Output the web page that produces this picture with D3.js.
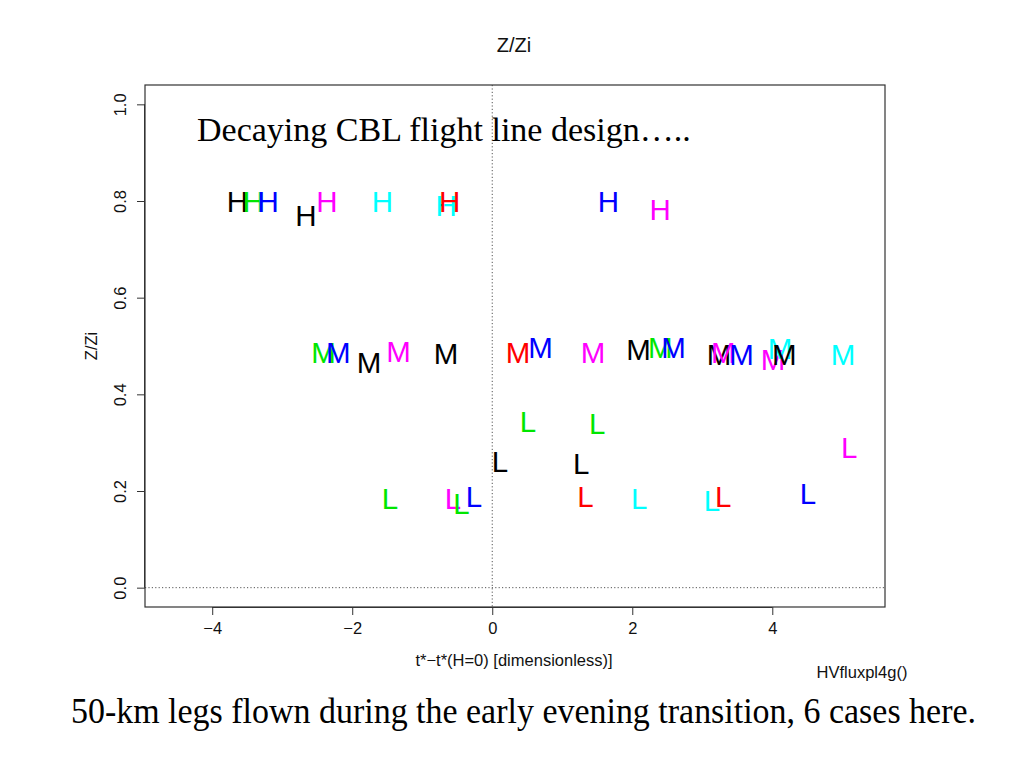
<!DOCTYPE html>
<html><head><meta charset="utf-8">
<script src="https://cdn.jsdelivr.net/npm/d3@7"></script>
<style>body{margin:0;background:#fff}svg{display:block}</style>
</head><body>
<script>
// Case colours (R base palette order)
const caseColors = ["#000000", "#ff0000", "#00e600", "#0000ff", "#00ffff", "#ff00ff"];
const caseNames = ["black", "red", "green", "blue", "cyan", "magenta"];

// H legs (z/zi ~ 0.8)
const hX    = [-3.64, -3.41, -3.20, -2.66, -2.36, -1.57, -0.66, -0.61, 1.66, 2.40];
const hY    = [0.800, 0.800, 0.800, 0.771, 0.800, 0.800, 0.790, 0.800, 0.800, 0.783];
const hCase = ["black", "green", "blue", "black", "magenta", "cyan", "cyan", "red", "blue", "magenta"];

// M legs (z/zi ~ 0.5)
const mX    = [-2.41, -2.20, -1.76, -1.34, -0.66, 0.37, 0.69, 1.44, 2.09, 2.40, 2.59, 3.24, 3.30, 3.56, 4.01, 4.11, 4.17, 5.01];
const mY    = [0.487, 0.487, 0.466, 0.489, 0.485, 0.487, 0.497, 0.487, 0.493, 0.497, 0.497, 0.482, 0.487, 0.482, 0.472, 0.495, 0.482, 0.482];
const mCase = ["green", "blue", "black", "magenta", "black", "red", "blue", "magenta", "black", "green", "blue", "black", "magenta", "blue", "magenta", "cyan", "black", "cyan"];

// L legs (z/zi ~ 0.2)
const lX    = [-1.46, -0.56, -0.44, -0.26, 0.11, 0.51, 1.27, 1.33, 1.50, 2.10, 3.14, 3.30, 4.51, 5.10];
const lY    = [0.184, 0.184, 0.175, 0.188, 0.262, 0.344, 0.256, 0.188, 0.340, 0.184, 0.181, 0.188, 0.194, 0.291];
const lCase = ["green", "magenta", "green", "blue", "black", "green", "black", "red", "green", "cyan", "cyan", "red", "blue", "magenta"];

const xTicks = [-4, -2, 0, 2, 4];
const yTicks = [0.0, 0.2, 0.4, 0.6, 0.8, 1.0];
const xDomain = [-4.96, 5.61];
const yDomain = [-0.04, 1.04];

const W = 1024, H = 768;
const plot = {left: 145, right: 885, top: 85, bottom: 607};

const svg = d3.select("body").append("svg").attr("width", W).attr("height", H);

const x = d3.scaleLinear().domain(xDomain).range([plot.left, plot.right]);
const y = d3.scaleLinear().domain(yDomain).range([plot.bottom, plot.top]);

const sans = "'Liberation Sans', Arial, Helvetica, sans-serif";
const serif = "'Liberation Serif', 'Times New Roman', serif";
const axFont = 16.5;

// reference dotted lines
svg.append("line").attr("x1", x(0)).attr("x2", x(0)).attr("y1", plot.top).attr("y2", plot.bottom)
  .attr("stroke", "#555").attr("stroke-width", 1).attr("stroke-dasharray", "1.2,2.2");
svg.append("line").attr("x1", plot.left).attr("x2", plot.right).attr("y1", y(0)).attr("y2", y(0))
  .attr("stroke", "#555").attr("stroke-width", 1).attr("stroke-dasharray", "1.2,2.2");

// box
svg.append("rect").attr("x", plot.left).attr("y", plot.top)
  .attr("width", plot.right - plot.left).attr("height", plot.bottom - plot.top)
  .attr("fill", "none").attr("stroke", "#333").attr("stroke-width", 1.2);

// axes
const xAxis = svg.append("g").attr("transform", `translate(0,${plot.bottom})`)
  .call(d3.axisBottom(x).tickValues(xTicks).tickSize(8).tickPadding(7)
    .tickFormat(d => d < 0 ? "\u2212" + Math.abs(d) : String(d)));
xAxis.attr("font-size", null).attr("font-family", null);
xAxis.select(".domain").attr("d", `M${x(-4)},0.5H${x(4)}`).attr("stroke", "#333");
xAxis.selectAll(".tick line").attr("stroke", "#333");
xAxis.selectAll("text").style("font-family", sans).style("font-size", axFont + "px").attr("fill", "#111");

const yAxis = svg.append("g").attr("transform", `translate(${plot.left},0)`)
  .call(d3.axisLeft(y).tickValues(yTicks).tickSize(8).tickFormat(d3.format(".1f")));
yAxis.attr("font-size", null).attr("font-family", null);
yAxis.select(".domain").attr("d", `M-0.5,${y(0)}V${y(1)}`).attr("stroke", "#333");
yAxis.selectAll(".tick line").attr("stroke", "#333");
yAxis.selectAll("text")
  .style("font-family", sans).style("font-size", axFont + "px").attr("fill", "#111")
  .attr("x", 0).attr("dy", 0)
  .attr("text-anchor", "middle")
  .attr("transform", "translate(-25,0) rotate(-90)")
  .attr("dominant-baseline", "central");

// titles
svg.append("text").attr("x", 514).attr("y", 52).attr("text-anchor", "middle")
  .style("font-family", sans).style("font-size", "20px").attr("fill", "#111").text("Z/Zi");
svg.append("text").attr("transform", `translate(97,${(plot.top + plot.bottom) / 2}) rotate(-90)`)
  .attr("text-anchor", "middle").style("font-family", sans).style("font-size", axFont + "px").attr("fill", "#111").text("Z/Zi");
svg.append("text").attr("x", 514).attr("y", 666).attr("text-anchor", "middle")
  .style("font-family", sans).style("font-size", axFont + "px").attr("fill", "#111").text("t*\u2212t*(H=0) [dimensionless)]");
svg.append("text").attr("x", 862).attr("y", 678).attr("text-anchor", "middle")
  .style("font-family", sans).style("font-size", axFont + "px").attr("fill", "#111").text("HVfluxpl4g()");

const sub = svg.append("text").attr("x", 197).attr("y", 141)
  .style("font-family", serif).style("font-size", "29px").attr("fill", "#000")
  .text("Decaying CBL flight line design\u2026..");
const natural = sub.node().getComputedTextLength();
sub.style("font-size", (29 * 494 / natural) + "px");

svg.append("text").attr("x", 71).attr("y", 723)
  .style("font-family", serif).style("font-size", "35px").attr("fill", "#000")
  .attr("textLength", 905).attr("lengthAdjust", "spacingAndGlyphs")
  .text("50-km legs flown during the early evening transition, 6 cases here.");

// letter marks
const colorOf = c => caseColors[caseNames.indexOf(c)];
const levels = [
  {label: "H", xs: hX, ys: hY, cs: hCase},
  {label: "M", xs: mX, ys: mY, cs: mCase},
  {label: "L", xs: lX, ys: lY, cs: lCase}
];
const marks = svg.append("g");
levels.forEach(lv => {
  const pts = lv.xs.map((v, i) => ({x: v, y: lv.ys[i], c: lv.cs[i]}));
  marks.selectAll(null).data(pts).enter().append("text")
    .attr("x", d => x(d.x))
    .attr("y", d => y(d.y) + 10.5)
    .attr("text-anchor", "middle")
    .style("font-family", sans).style("font-size", "29.5px")
    .attr("fill", d => colorOf(d.c))
    .text(lv.label);
});
</script>
</body></html>
